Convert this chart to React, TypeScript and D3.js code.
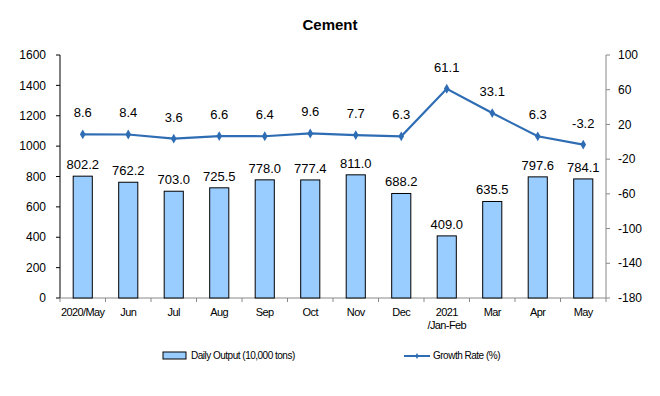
import { useMemo } from "react";
import * as d3 from "d3";

const categories = ["2020/May", "Jun", "Jul", "Aug", "Sep", "Oct", "Nov", "Dec", "2021\n/Jan-Feb", "Mar", "Apr", "May"];
const dailyOutput = [802.2, 762.2, 703.0, 725.5, 778.0, 777.4, 811.0, 688.2, 409.0, 635.5, 797.6, 784.1];
const growthRate = [8.6, 8.4, 3.6, 6.6, 6.4, 9.6, 7.7, 6.3, 61.1, 33.1, 6.3, -3.2];
const leftTicks = [0, 200, 400, 600, 800, 1000, 1200, 1400, 1600];
const rightTicks = [-180, -140, -100, -60, -20, 20, 60, 100];

const FONT = "'Liberation Sans', Arial, sans-serif";
const LINE = "#2E6DB4";

export default function App() {
  const W = 660, H = 396;
  const m = { left: 60, right: 606, top: 55, bottom: 298 };

  const x = useMemo(() => d3.scaleBand<number>()
    .domain(d3.range(categories.length))
    .range([m.left, m.right])
    .paddingInner(0.58).paddingOuter(0.29), []);
  const band = useMemo(() => d3.scaleBand<number>()
    .domain(d3.range(categories.length)).range([m.left, m.right]), []);
  const yL = d3.scaleLinear().domain([0, 1600]).range([m.bottom, m.top]);
  const yR = d3.scaleLinear().domain([-180, 100]).range([m.bottom, m.top]);

  const cx = (i: number) => band(i)! + band.bandwidth() / 2;
  const line = d3.line<number>().x((_, i) => cx(i)).y((d) => yR(d));
  const diamond = d3.symbol().type(d3.symbolDiamond).size(28)();

  return (
    <svg width={W} height={H} style={{ position: "absolute", left: 0, top: 0, fontFamily: FONT }}>
      <rect width={W} height={H} fill="#fff" />
      <text x={330} y={30} textAnchor="middle" fontSize={15} fontWeight="bold">Cement</text>

      {/* left axis */}
      <line x1={m.left} x2={m.left} y1={m.top} y2={m.bottom} stroke="#000" />
      {leftTicks.map((t) => (
        <g key={t}>
          <line x1={m.left - 4} x2={m.left} y1={yL(t)} y2={yL(t)} stroke="#000" />
          <text x={m.left - 14} y={yL(t)} dy="0.35em" textAnchor="end" fontSize={12}>{t}</text>
        </g>
      ))}

      {/* right axis */}
      <line x1={m.right} x2={m.right} y1={m.top} y2={m.bottom} stroke="#888" />
      {rightTicks.map((t) => (
        <g key={t}>
          <line x1={m.right} x2={m.right + 4} y1={yR(t)} y2={yR(t)} stroke="#888" />
          <text x={m.right + 12} y={yR(t)} dy="0.35em" textAnchor="start" fontSize={12}>{t}</text>
        </g>
      ))}

      {/* bottom axis */}
      <line x1={m.left} x2={m.right} y1={m.bottom} y2={m.bottom} stroke="#888" />
      {d3.range(categories.length + 1).map((i) => {
        const xx = m.left + i * band.bandwidth();
        return <line key={i} x1={xx} x2={xx} y1={m.bottom} y2={m.bottom + 4} stroke="#888" />;
      })}
      {categories.map((c, i) => (
        <text key={c} x={cx(i)} y={m.bottom + 18} textAnchor="middle" fontSize={11} letterSpacing={-0.6}>
          {c.split("\n").map((s, k) => (
            <tspan key={k} x={cx(i)} dy={k === 0 ? 0 : 13}>{s}</tspan>
          ))}
        </text>
      ))}

      {/* bars */}
      {dailyOutput.map((v, i) => (
        <g key={i}>
          <rect x={x(i)} y={yL(v)} width={x.bandwidth()} height={m.bottom - yL(v)}
            fill="#99CCFF" stroke="#000" strokeWidth={1} />
          <text x={cx(i)} y={yL(v) - 7} textAnchor="middle" fontSize={13}>{v.toFixed(1)}</text>
        </g>
      ))}

      {/* growth line */}
      <path d={line(growthRate)!} fill="none" stroke={LINE} strokeWidth={2.2} />
      {growthRate.map((v, i) => (
        <g key={i}>
          <path d={diamond!} transform={`translate(${cx(i)},${yR(v)})`} fill={LINE} />
          <text x={cx(i)} y={yR(v) - 17} textAnchor="middle" fontSize={13}>{v.toFixed(1)}</text>
        </g>
      ))}

      {/* legend */}
      <rect x={163} y={352} width={23} height={7} fill="#99CCFF" stroke="#000" />
      <text x={191} y={359} fontSize={10} letterSpacing={-0.5}>Daily Output (10,000 tons)</text>
      <line x1={404} x2={430} y1={356} y2={356} stroke={LINE} strokeWidth={2} />
      <path d={d3.symbol().type(d3.symbolDiamond).size(10)()!} transform="translate(417,356)" fill={LINE} />
      <text x={433} y={359} fontSize={10} letterSpacing={-0.5}>Growth Rate (%)</text>
    </svg>
  );
}
